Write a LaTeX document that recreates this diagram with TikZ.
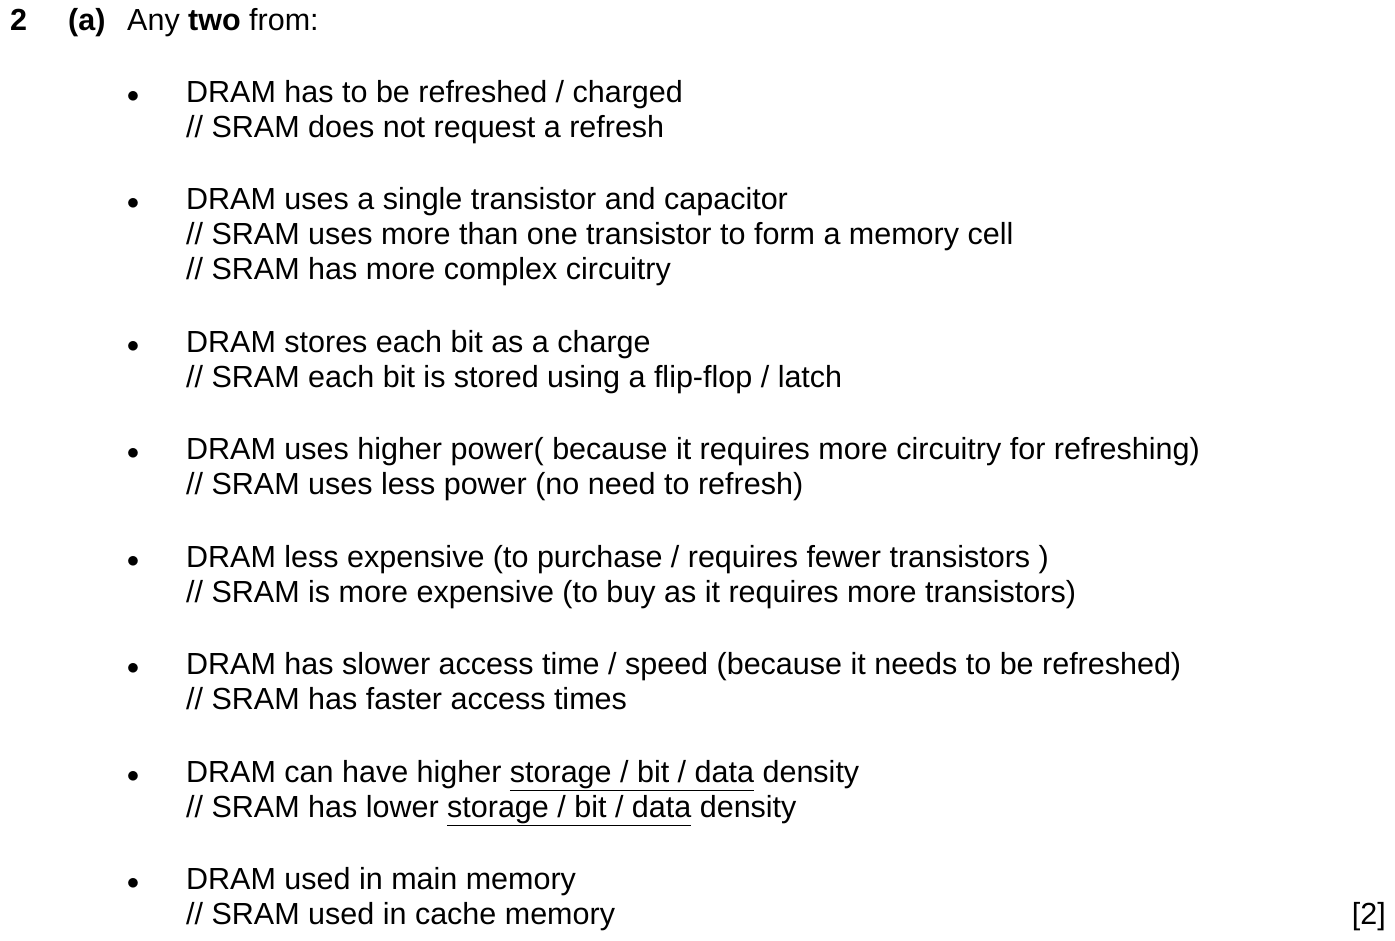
\documentclass[tikz,border=0pt]{standalone}
\usepackage{fontspec}
\setmainfont{Liberation Sans}
\tikzset{
  txt/.style={anchor=base west,inner sep=0pt,font=\fontsize{30.5}{36}\selectfont},
  bul/.style={anchor=base,inner sep=0pt,font=\fontsize{32}{36}\selectfont}
}
\begin{document}
\begin{tikzpicture}[x=1pt,y=-1pt]
\useasboundingbox (0,0) rectangle (1395,940);

%Header
\node[txt] (num) at (10,30){\textbf{2}};
\node[txt] (part) at (68,30){\textbf{(a)}};
\node[txt] (intro) at (127,30){Any \textbf{two} from:};

%Points
\node[bul] (b1) at (133,102){$\bullet$};
\node[txt] (d1) at (186,102){DRAM has to be refreshed / charged};
\node[txt] (s1) at (186,137){// SRAM does not request a refresh};

\node[bul] (b2) at (133,209){$\bullet$};
\node[txt] (d2) at (186,209){DRAM uses a single transistor and capacitor};
\node[txt] (s2a) at (186,244){// SRAM uses more than one transistor to form a memory cell};
\node[txt] (s2b) at (186,279){// SRAM has more complex circuitry};

\node[bul] (b3) at (133,352){$\bullet$};
\node[txt] (d3) at (186,352){DRAM stores each bit as a charge};
\node[txt] (s3) at (186,387){// SRAM each bit is stored using a flip-flop / latch};

\node[bul] (b4) at (133,459){$\bullet$};
\node[txt] (d4) at (186,459){DRAM uses higher power( because it requires more circuitry for refreshing)};
\node[txt] (s4) at (186,494){// SRAM uses less power (no need to refresh)};

\node[bul] (b5) at (133,567){$\bullet$};
\node[txt] (d5) at (186,567){DRAM less expensive (to purchase / requires fewer transistors )};
\node[txt] (s5) at (186,602){// SRAM is more expensive (to buy as it requires more transistors)};

\node[bul] (b6) at (133,674){$\bullet$};
\node[txt] (d6) at (186,674){DRAM has slower access time / speed (because it needs to be refreshed)};
\node[txt] (s6) at (186,709){// SRAM has faster access times};

\node[bul] (b7) at (133,782){$\bullet$};
\node[txt] (d7) at (186,782){DRAM can have higher \underline{storage / bit / data} density};
\node[txt] (s7) at (186,817){// SRAM has lower \underline{storage / bit / data} density};

\node[bul] (b8) at (133,889){$\bullet$};
\node[txt] (d8) at (186,889){DRAM used in main memory};
\node[txt] (s8) at (186,924){// SRAM used in cache memory};

%Marks
\node[txt,anchor=base east] (marks) at (1386,924){[2]};
\end{tikzpicture}
\end{document}
